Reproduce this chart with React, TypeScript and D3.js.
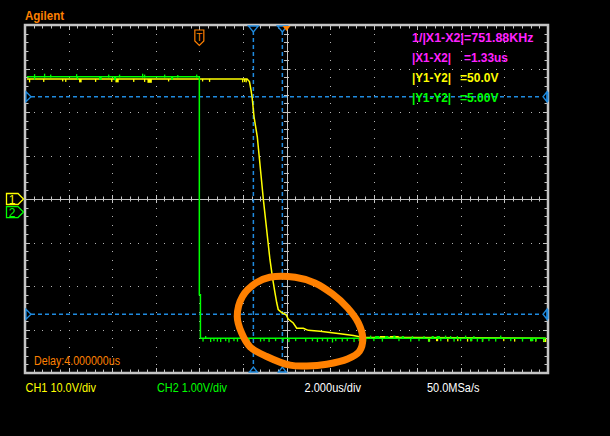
import React, { useEffect, useRef } from 'react';
import * as d3 from 'd3';

// screen: 12 horizontal divisions at 2 us/div (delay 4 us), 8 vertical divisions
const timeDomain = [-8, 16];
const divDomain = [-4, 4];

const ch1VoltsPerDiv = 10;
const ch2VoltsPerDiv = 1;
const ch1OffsetDiv = 0;
const ch2OffsetDiv = -0.3;

// CH1 (yellow) trace, [time us, volts]
const ch1Trace: [number, number][] = [
  [-7.91, 27.6], [2.19, 27.6], [2.3, 27.0], [2.37, 25.1], [2.42, 23.5],
  [2.51, 18.9], [2.66, 14.3], [2.94, -0.2], [3.24, -13.9], [3.37, -18.5],
  [3.47, -21.5], [3.55, -23.8], [3.62, -25.4], [3.78, -26.1], [3.98, -26.6],
  [4.08, -27.6], [4.31, -28.5], [4.47, -29.7], [4.77, -29.7], [5.0, -30.2],
  [5.54, -30.4], [6.46, -31.0], [7.07, -31.4], [7.47, -31.8], [15.9, -32.0],
];

// CH2 (green) trace, [time us, volts]
const ch2Trace: [number, number][] = [
  [-7.91, 3.11], [0.0, 3.11], [0.0, -1.9], [0.05, -1.9], [0.05, -2.9], [15.9, -2.9],
];

// glitches on the flat parts: [time us, delta volts, width us]
const ch1TopGlitches: [number, number, number][] = [
  [-7.82, -0.6, 0.04], [-7.17, -0.5, 0.03], [-6.3, -0.4, 0.03], [-6.16, -0.5, 0.03],
  [-5.52, -0.6, 0.12], [-4.79, -0.5, 0.04], [-4.05, -0.5, 0.04], [-3.85, -0.6, 0.15],
  [-3.04, -0.5, 0.04], [-2.54, -0.5, 0.03], [-2.38, -0.7, 0.2], [-1.44, -0.4, 0.03],
  [0.12, -0.4, 0.03], [0.44, -0.5, 0.03], [1.96, -0.6, 0.04], [2.05, -0.5, 0.03],
  [2.12, -0.6, 0.04],
];
const ch2TopGlitches: [number, number, number][] = [
  [-7.59, 0.06, 0.04], [-7.59, -0.05, 0.04], [-7.13, 0.07, 0.03], [-6.85, 0.05, 0.03],
  [-5.66, 0.06, 0.04], [-5.62, -0.05, 0.04], [-4.6, -0.05, 0.12], [-4.19, 0.05, 0.04],
  [-3.92, -0.06, 0.1], [-3.69, 0.05, 0.04], [-2.63, 0.07, 0.04], [-2.54, 0.05, 0.03],
  [-1.62, 0.05, 0.04], [-1.3, -0.05, 0.1], [-1.02, 0.04, 0.04], [-0.15, 0.05, 0.04],
];
const ch2BottomGlitches: [number, number, number][] = [
  [0.14, -0.06, 0.03], [0.26, 0.05, 0.03], [0.49, -0.07, 0.05], [0.64, -0.05, 0.03],
  [0.8, -0.06, 0.03], [0.95, -0.07, 0.05], [1.18, -0.05, 0.03], [1.33, -0.08, 0.04],
  [1.56, -0.05, 0.03], [1.72, -0.06, 0.05], [1.94, 0.05, 0.03], [2.1, -0.07, 0.04],
  [2.25, -0.05, 0.03], [2.78, -0.06, 0.05], [2.94, -0.05, 0.03], [3.17, -0.07, 0.04],
  [3.47, -0.05, 0.03], [3.81, -0.06, 0.05], [4.08, -0.07, 0.03], [4.39, -0.05, 0.04],
  [4.85, -0.06, 0.06], [5.16, -0.05, 0.03], [5.39, -0.07, 0.04], [5.62, -0.05, 0.03],
  [5.85, -0.06, 0.05], [6.08, -0.08, 0.04], [6.23, -0.05, 0.03], [6.53, -0.06, 0.04],
  [6.76, -0.05, 0.03], [7.07, -0.07, 0.05], [7.3, -0.05, 0.03], [7.6, -0.06, 0.04],
  [7.83, 0.06, 0.05], [7.98, -0.05, 0.03], [8.06, 0.05, 0.2], [8.37, -0.06, 0.04],
  [8.52, 0.05, 0.15], [8.9, 0.06, 0.1], [9.13, -0.05, 0.04], [9.29, 0.05, 0.1],
  [9.67, -0.06, 0.03], [9.75, 0.05, 0.05], [10.05, -0.05, 0.04], [10.28, 0.05, 0.04],
  [10.51, -0.07, 0.05], [10.66, 0.05, 0.1], [10.89, 0.05, 0.15], [11.05, -0.05, 0.04],
  [11.27, 0.06, 0.05], [11.5, 0.05, 0.04], [11.66, -0.06, 0.04], [11.81, 0.05, 0.05],
  [11.96, -0.05, 0.03], [12.19, 0.06, 0.04], [12.42, -0.05, 0.1], [12.57, 0.05, 0.04],
  [12.73, -0.06, 0.04], [12.96, -0.07, 0.04], [13.26, -0.05, 0.03], [13.57, -0.06, 0.04],
  [13.8, 0.06, 0.04], [14.26, -0.05, 0.04], [14.8, -0.06, 0.04], [15.18, -0.05, 0.15],
  [15.41, -0.05, 0.04], [15.79, -0.06, 0.04],
];
const ch1BottomGlitches: [number, number, number][] = [
  [8.29, 0.5, 0.25], [8.75, 0.5, 0.4], [10.49, -0.6, 0.1], [10.86, -0.5, 0.1],
  [11.37, -0.6, 0.05], [11.83, -0.5, 0.05], [12.28, -0.6, 0.05], [12.42, -0.5, 0.1],
  [12.97, -0.6, 0.05], [13.94, -0.5, 0.05], [14.44, -0.6, 0.05], [15.18, -0.5, 0.1],
  [15.41, -0.6, 0.05], [15.77, -0.7, 0.15],
];

// cursors: X in us, Y in CH1 volts
const cursorX = [2.48, 3.81];
const cursorY = [23.5, -26.5];

// annotation drawn on the screenshot: [time us, divisions]
const markCircle: [number, number][] = [
  [3.23, -1.8], [4.4, -1.8], [5.3, -1.93], [6.1, -2.18], [6.8, -2.5], [7.3, -2.85],
  [7.5, -3.2], [7.35, -3.5], [6.8, -3.68], [5.85, -3.8], [4.93, -3.84], [4.16, -3.82],
  [3.09, -3.62], [2.33, -3.4], [1.94, -3.08], [1.74, -2.7], [1.98, -2.24], [2.6, -1.93],
];

const measureRows = [
  { label: '1/|X1-X2|=751.88KHz', value: '', color: '#ff22ff' },
  { label: '|X1-X2|', value: '=1.33us', color: '#ff22ff' },
  { label: '|Y1-Y2|', value: '=50.0V', color: '#ffff00' },
  { label: '|Y1-Y2|', value: '=5.00V', color: '#00ff00' },
];

const footerLabels = [
  { text: 'CH1 10.0V/div', color: '#ffff00', x: 25.5, w: 70.5 },
  { text: 'CH2 1.00V/div', color: '#00ff00', x: 157, w: 70 },
  { text: '2.000us/div', color: '#ffffff', x: 304.5, w: 56.5 },
  { text: '50.0MSa/s', color: '#ffffff', x: 427, w: 52.5 },
];

const GRID = '#c4c4c4';
const CURSOR = '#1f8be0';
const ORANGE = '#ff8000';
const FONT = '"Liberation Sans", Arial, sans-serif';

export default function App() {
  const ref = useRef<SVGSVGElement>(null);

  useEffect(() => {
    document.body.style.margin = '0';
    document.body.style.background = '#000';
    const svg = d3.select(ref.current);
    svg.selectAll('*').remove();

    const x = d3.scaleLinear().domain(timeDomain).range([25, 548]);
    const yDiv = d3.scaleLinear().domain(divDomain).range([373, 25]);
    const y1 = (v: number) => yDiv(v / ch1VoltsPerDiv + ch1OffsetDiv);
    const y2 = (v: number) => yDiv(v / ch2VoltsPerDiv + ch2OffsetDiv);

    const majorT = d3.range(timeDomain[0], timeDomain[1] + 0.01, 2);
    const minorT = d3.range(timeDomain[0], timeDomain[1] + 0.01, 0.4);
    const majorD = d3.range(divDomain[0], divDomain[1] + 0.01, 1);
    const minorD = d3.range(divDomain[0], divDomain[1] + 0.01, 0.2);
    const centerT = (timeDomain[0] + timeDomain[1]) / 2;

    const grid = svg.append('g');
    // dotted graticule
    majorT.slice(1, -1).filter((t) => Math.abs(t - centerT) > 0.01).forEach((t) => {
      grid.selectAll(null).data(minorD.slice(1, -1)).enter().append('rect')
        .attr('x', Math.round(x(t))).attr('y', (d) => Math.round(yDiv(d)))
        .attr('width', 1).attr('height', 1).attr('fill', '#b4b4b4');
    });
    majorD.slice(1, -1).filter((d) => d !== 0).forEach((d) => {
      grid.selectAll(null).data(minorT.slice(1, -1)).enter().append('rect')
        .attr('x', (t) => Math.round(x(t))).attr('y', Math.round(yDiv(d)))
        .attr('width', 1).attr('height', 1).attr('fill', '#b4b4b4');
    });

    // center axes with ticks
    grid.append('line').attr('x1', x(timeDomain[0])).attr('x2', x(timeDomain[1]))
      .attr('y1', Math.round(yDiv(0)) + 0.5).attr('y2', Math.round(yDiv(0)) + 0.5)
      .attr('stroke', GRID).attr('stroke-width', 1);
    grid.append('line').attr('y1', yDiv(4)).attr('y2', yDiv(-4))
      .attr('x1', Math.round(x(centerT)) + 0.5).attr('x2', Math.round(x(centerT)) + 0.5)
      .attr('stroke', GRID).attr('stroke-width', 1);
    grid.selectAll(null).data(minorT.slice(1, -1)).enter().append('line')
      .attr('x1', (t) => Math.round(x(t)) + 0.5).attr('x2', (t) => Math.round(x(t)) + 0.5)
      .attr('y1', (t) => yDiv(0) - (Math.abs(t % 2) < 0.01 ? 4 : 2.5))
      .attr('y2', (t) => yDiv(0) + (Math.abs(t % 2) < 0.01 ? 4 : 2.5))
      .attr('stroke', GRID);
    grid.selectAll(null).data(minorD.slice(1, -1)).enter().append('line')
      .attr('y1', (d) => Math.round(yDiv(d)) + 0.5).attr('y2', (d) => Math.round(yDiv(d)) + 0.5)
      .attr('x1', (d) => x(centerT) - (Math.abs(d % 1) < 0.01 ? 4 : 2.5))
      .attr('x2', (d) => x(centerT) + (Math.abs(d % 1) < 0.01 ? 4 : 2.5))
      .attr('stroke', GRID);

    // border ticks
    const edgeTicksT = minorT.slice(1, -1);
    const edgeTicksD = minorD.slice(1, -1);
    [[yDiv(4), 1], [yDiv(-4), -1]].forEach(([yy, dir]) => {
      grid.selectAll(null).data(edgeTicksT).enter().append('line')
        .attr('x1', (t) => Math.round(x(t)) + 0.5).attr('x2', (t) => Math.round(x(t)) + 0.5)
        .attr('y1', yy).attr('y2', (t) => yy + dir * (Math.abs(t % 2) < 0.01 ? 5 : 3.5))
        .attr('stroke', GRID);
    });
    [[x(timeDomain[0]), 1], [x(timeDomain[1]), -1]].forEach(([xx, dir]) => {
      grid.selectAll(null).data(edgeTicksD).enter().append('line')
        .attr('y1', (d) => Math.round(yDiv(d)) + 0.5).attr('y2', (d) => Math.round(yDiv(d)) + 0.5)
        .attr('x1', xx).attr('x2', (d) => xx + dir * (Math.abs(d % 1) < 0.01 ? 5 : 3.5))
        .attr('stroke', GRID);
    });
    grid.append('rect')
      .attr('x', x(timeDomain[0])).attr('y', yDiv(4))
      .attr('width', x(timeDomain[1]) - x(timeDomain[0]))
      .attr('height', yDiv(-4) - yDiv(4))
      .attr('fill', 'none').attr('stroke', GRID).attr('stroke-width', 2.5);

    // cursors
    const cur = svg.append('g').attr('stroke', CURSOR).attr('stroke-width', 1.5)
      .attr('stroke-dasharray', '4,3').attr('fill', 'none');
    cursorX.forEach((t) => {
      cur.append('line').attr('x1', x(t)).attr('x2', x(t))
        .attr('y1', yDiv(4) + 6).attr('y2', yDiv(-4) - 6);
    });
    cursorY.forEach((v) => {
      cur.append('line').attr('y1', y1(v)).attr('y2', y1(v))
        .attr('x1', x(timeDomain[0]) + 6).attr('x2', x(timeDomain[1]) - 6);
    });
    const mk = svg.append('g').attr('stroke', CURSOR).attr('stroke-width', 1.3).attr('fill', '#000');
    cursorX.forEach((t) => {
      const cx = x(t);
      mk.append('path').attr('d', `M${cx - 5},${yDiv(4) + 1}L${cx + 5},${yDiv(4) + 1}L${cx},${yDiv(4) + 7}Z`);
      mk.append('path').attr('d', `M${cx - 4},${yDiv(-4) - 1}L${cx + 4},${yDiv(-4) - 1}L${cx},${yDiv(-4) - 6}Z`);
    });
    cursorY.forEach((v) => {
      const cy = y1(v);
      const l = x(timeDomain[0]);
      const r = x(timeDomain[1]);
      mk.append('path').attr('d', `M${l + 1},${cy - 5}L${l + 6},${cy}L${l + 1},${cy + 5}Z`);
      mk.append('path').attr('d', `M${r - 1},${cy - 5}L${r - 5},${cy}L${r - 1},${cy + 5}Z`);
      mk.append('line').attr('x1', r - 0.5).attr('x2', r - 0.5).attr('y1', cy - 5).attr('y2', cy + 5)
        .attr('stroke-width', 2);
    });

    // traces
    const line1 = d3.line<[number, number]>().x((d) => x(d[0])).y((d) => y1(d[1]));
    const line2 = d3.line<[number, number]>().x((d) => x(d[0])).y((d) => y2(d[1]));

    const glitches = (
      g: d3.Selection<SVGGElement, unknown, null, undefined>,
      data: [number, number, number][],
      base: number,
      yf: (v: number) => number,
      color: string,
    ) => {
      g.selectAll(null).data(data).enter().append('rect')
        .attr('x', (d) => x(d[0]))
        .attr('width', (d) => Math.max(1.3, x(d[0] + d[2]) - x(d[0])))
        .attr('y', (d) => Math.min(yf(base), yf(base + d[1])))
        .attr('height', (d) => Math.abs(yf(base + d[1]) - yf(base)) + 0.8)
        .attr('fill', color);
    };

    const traces = svg.append('g');
    const ch1Top = ch1Trace[0][1];
    const ch1Bot = ch1Trace[ch1Trace.length - 1][1];
    const ch2Top = ch2Trace[0][1];
    const ch2Bot = ch2Trace[ch2Trace.length - 1][1];

    traces.append('path').datum(ch1Trace).attr('d', line1)
      .attr('fill', 'none').attr('stroke', '#ffff00').attr('stroke-width', 1.5);
    glitches(traces, ch1TopGlitches, ch1Top, y1, '#ffff00');
    glitches(traces, ch1BottomGlitches, ch1Bot, y1, '#ffff00');
    traces.append('path').datum(ch2Trace).attr('d', line2)
      .attr('fill', 'none').attr('stroke', '#00ff00').attr('stroke-width', 1.5);
    glitches(traces, ch2TopGlitches, ch2Top, y2, '#00ff00');
    glitches(traces, ch2BottomGlitches, ch2Bot, y2, '#00ff00');

    // trigger marker "T" and trigger position
    const tx = x(0);
    const tg = svg.append('g');
    tg.append('path')
      .attr('d', `M${tx - 4.5},30L${tx + 4.5},30L${tx + 4.5},41L${tx},45.5L${tx - 4.5},41Z`)
      .attr('fill', '#000').attr('stroke', ORANGE).attr('stroke-width', 1.2);
    tg.append('text').attr('x', tx).attr('y', 40.5).attr('text-anchor', 'middle')
      .attr('font-family', FONT).attr('font-size', 10).attr('fill', ORANGE).text('T');
    const cx0 = x(centerT);
    tg.append('path').attr('d', `M${cx0 - 4},${yDiv(4) + 1}L${cx0 + 4},${yDiv(4) + 1}L${cx0},${yDiv(4) + 6}Z`)
      .attr('fill', ORANGE);

    // channel ground markers
    [
      { label: '1', color: '#ffff00', off: ch1OffsetDiv },
      { label: '2', color: '#00ff00', off: ch2OffsetDiv },
    ].forEach((c) => {
      const cy = yDiv(c.off);
      svg.append('path').attr('d', `M6.5,${cy - 5.5}L18,${cy - 5.5}L23.5,${cy}L18,${cy + 5.5}L6.5,${cy + 5.5}Z`)
        .attr('fill', '#000').attr('stroke', c.color).attr('stroke-width', 1.3);
      svg.append('text').attr('x', 12).attr('y', cy + 4.5).attr('text-anchor', 'middle')
        .attr('font-family', FONT).attr('font-size', 12).attr('fill', c.color).text(c.label);
    });

    // texts
    svg.append('text').attr('x', 25).attr('y', 20).attr('font-family', FONT)
      .attr('font-weight', 'bold').attr('font-size', 12).attr('fill', ORANGE)
      .attr('textLength', 39).attr('lengthAdjust', 'spacingAndGlyphs').text('Agilent');

    measureRows.forEach((r, i) => {
      const by = 41.5 + i * 20;
      svg.append('text').attr('x', 412).attr('y', by).attr('font-family', FONT)
        .attr('font-weight', 'bold').attr('font-size', 12).attr('fill', r.color)
        .attr('textLength', r.value ? 39 : 121.5).attr('lengthAdjust', 'spacingAndGlyphs')
        .text(r.label);
      if (r.value) {
        const vx = r.value.endsWith('s') ? 464 : 460;
        svg.append('text').attr('x', vx).attr('y', by).attr('font-family', FONT)
          .attr('font-weight', 'bold').attr('font-size', 12).attr('fill', r.color)
          .attr('textLength', r.value.endsWith('s') ? 44 : 38.5).attr('lengthAdjust', 'spacingAndGlyphs')
          .text(r.value);
      }
    });

    svg.append('text').attr('x', 34).attr('y', 365).attr('font-family', FONT)
      .attr('font-size', 12).attr('fill', ORANGE)
      .attr('textLength', 86).attr('lengthAdjust', 'spacingAndGlyphs').text('Delay:4.000000us');

    footerLabels.forEach((f) => {
      svg.append('text').attr('x', f.x).attr('y', 392).attr('font-family', FONT)
        .attr('font-size', 12).attr('fill', f.color)
        .attr('textLength', f.w).attr('lengthAdjust', 'spacingAndGlyphs').text(f.text);
    });

    // hand-drawn highlight
    const ring = d3.line<[number, number]>()
      .x((d) => x(d[0])).y((d) => yDiv(d[1]))
      .curve(d3.curveCatmullRomClosed);
    svg.append('path').datum(markCircle).attr('d', ring)
      .attr('fill', 'none').attr('stroke', ORANGE).attr('stroke-width', 7)
      .attr('stroke-linejoin', 'round');
  });

  return (
    <svg
      ref={ref}
      width={610}
      height={436}
      style={{ display: 'block', background: '#000', position: 'absolute', left: 0, top: 0 }}
    />
  );
}
